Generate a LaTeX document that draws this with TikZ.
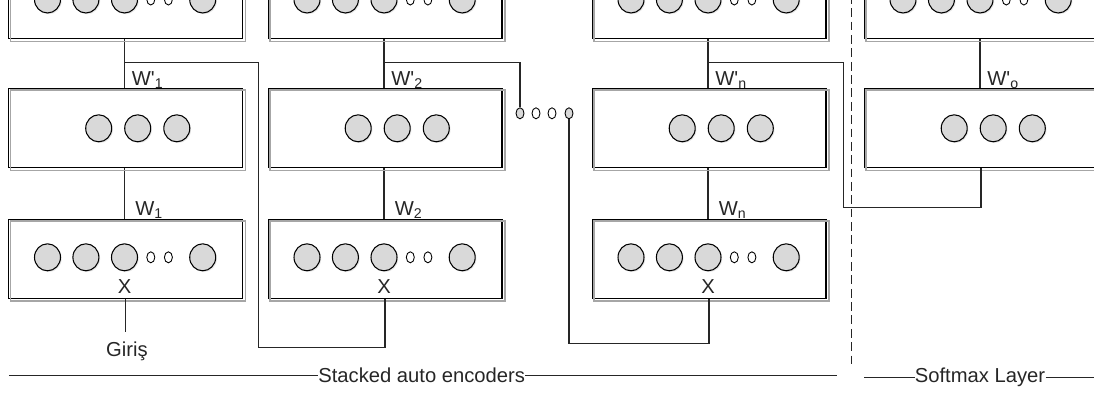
\documentclass[tikz,border=0pt]{standalone}
\usepackage{fontspec}
\setmainfont{Liberation Sans}
\usetikzlibrary{shapes.geometric,shadows}

\begin{document}
\begin{tikzpicture}[x=0.02cm,y=-0.02cm,
  font=\fontsize{11.5}{13.8}\selectfont,
  layer/.style={draw,line width=0.6pt,minimum width=4.68cm,minimum height=1.58cm,inner sep=0},
  layershadow/.style={draw=gray!70,line width=0.9pt},
  unit/.style={ellipse,draw,fill=gray!30,line width=0.6pt,minimum width=0.52cm,minimum height=0.54cm,inner sep=0,
    drop shadow={shadow xshift=0.7pt,shadow yshift=-0.7pt,opacity=0.2}},
  dot/.style={ellipse,draw,fill=white,line width=0.5pt,minimum width=0.16cm,minimum height=0.22cm,inner sep=0},
  wire/.style={line width=0.6pt,draw=black!85},
  lbl/.style={inner sep=0,anchor=base west,text=black!85}]

\useasboundingbox (0,0) rectangle (1094,392);
\clip (0,0) rectangle (1094,392);

% layers of each column
\foreach \c/\x in {1/124.5,2/384,3/708,4/980}{
  \node[layer] (t\c) at (\x+1,-1.2) {};
  \node[layer] (h\c) at (\x+1,127.8) {};
  \foreach \k/\d in {a/-77,b/-38.6,c/0,e/78.2}
    \node[unit] (t\c\k) at (\x+\d,-0.5) {};
  \node[dot] (t\c s1) at (\x+26.3,-0.5) {};
  \node[dot] (t\c s2) at (\x+43.9,-0.5) {};
  \foreach \k/\d in {a/-25.8,b/13.2,c/52.3}
    \node[unit] (h\c\k) at (\x+\d,128.3) {};
  \draw[wire] (t\c.south -| \x,0) -- (h\c.north -| \x,0);
}
\foreach \c/\x in {1/124.5,2/384,3/708}{
  \node[layer] (i\c) at (\x+1,258.7) {};
  \foreach \k/\d in {a/-77,b/-38.6,c/0,e/78.2}
    \node[unit] (i\c\k) at (\x+\d,257.3) {};
  \node[dot] (i\c s1) at (\x+26.3,257.3) {};
  \node[dot] (i\c s2) at (\x+43.9,257.3) {};
  \node[anchor=base,inner sep=0,text=black!85] (x\c) at (\x,293.3) {X};
  \draw[wire] (h\c.south -| \x,0) -- (i\c.north -| \x,0);
  \node[lbl] (w\c) at (\x+10.5,215) {W\textsubscript{\ifcase\c\or 1\or 2\or n\fi}};
}
\foreach \n in {t1,t2,t3,t4,h1,h2,h3,h4,i1,i2,i3}
  \draw[layershadow] ([shift={(2.5,2.5)}]\n.north west) rectangle ([shift={(2.5,2.5)}]\n.south east);

% weight labels
\node[lbl] (wt1) at (131.5,85) {W\textquotesingle\textsubscript{1}};
\node[lbl] (wt2) at (391,85) {W\textquotesingle\textsubscript{2}};
\node[lbl] (wt3) at (715,85) {W\textquotesingle\textsubscript{n}};
\node[lbl] (wt4) at (987,85) {W\textquotesingle\textsubscript{o}};

% input
\node[anchor=base,inner sep=0,outer ysep=5.6pt,text=black!85] (giris) at (127,356.7) {Giriş};
\draw[wire] (i1.south) -- (i1.south |- giris.north);

% dots between encoders
\node[dot,fill=gray!30] (d1) at (520,113.3) {};
\node[dot] (d2) at (536,113.3) {};
\node[dot] (d3) at (552,113.3) {};
\node[dot,fill=gray!30] (d4) at (569,113.3) {};

% feeding hidden outputs forward
\coordinate (f1) at (124.5,62.5);
\coordinate (f2) at (384,62.5);
\coordinate (f3) at (708,62.5);
\draw[wire] (f1) -| (258.5,347.7) -| (i2.south);
\draw[wire] (f2) -| (d1.north);
\draw[wire] (d4.south) -- ++(0,224) -| (i3.south);
\draw[wire] (f3) -| (843.2,207.7) -| (h4.south);

% separator
\draw[line width=0.6pt,dash pattern=on 5pt off 2.6pt,draw=black!85] (851.7,-5) -- (851.7,368.3);

% section titles
\node[anchor=base,inner sep=0,text=black!85] (sae) at (421.7,382.7) {Stacked auto encoders};
\node[anchor=base,inner sep=0,text=black!85] (sml) at (980,382.7) {Softmax Layer};
\draw[wire] (sae.west -| 8.8,0) -- (sae.west);
\draw[wire] (sae.east) -- (sae.east -| 836.8,0);
\draw[wire] (sml.west -| 864.4,0) -- (sml.west);
\draw[wire] (sml.east) -- (sml.east -| 1100,0);
\end{tikzpicture}
\end{document}
